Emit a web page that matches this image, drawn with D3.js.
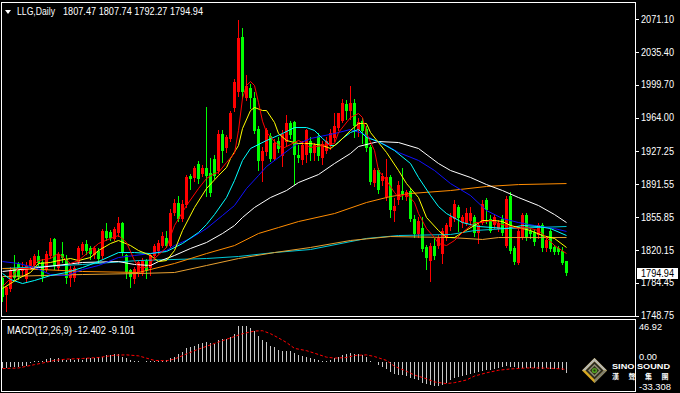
<!DOCTYPE html>
<html><head><meta charset="utf-8">
<script src="https://cdnjs.cloudflare.com/ajax/libs/d3/7.8.5/d3.min.js"></script>
<style>html,body{margin:0;padding:0;background:#000;}svg{display:block;}</style>
</head><body>
<script>
// ---------- DATA ----------
const symbol = "LLG,Daily";
const lastOHLC = "1807.47 1807.74 1792.27 1794.94";
const open = [
1789.0,1770.5,1778.1,1799.8,1804.2,1797.7,1789.0,1803.1,1803.1,1812.9,
1806.4,1798.7,1814.0,1831.4,1800.9,1815.1,1810.7,1790.0,1790.0,1806.4,
1819.4,1827.0,1821.6,1814.0,1819.4,1814.0,1841.1,1839.0,1832.5,1837.9,
1848.8,1814.0,1797.7,1789.0,1795.5,1795.5,1808.5,1799.8,1814.0,1819.4,
1824.8,1833.5,1824.8,1860.7,1871.6,1854.2,1868.3,1900.9,1897.7,1914.0,
1903.1,1909.6,1904.2,1919.4,1906.4,1946.6,1930.3,1941.2,1973.8,1991.2,
2051.0,1985.7,1996.6,1985.7,1952.0,1917.3,1926.0,1944.4,1919.4,1939.0,
1922.7,1936.8,1957.5,1958.6,1922.7,1917.3,1922.7,1939.0,1924.9,1944.4,
1920.5,1928.1,1933.6,1942.3,1952.0,1960.7,1979.2,1971.6,1980.3,1949.9,
1960.7,1952.0,1931.4,1892.2,1906.4,1895.5,1877.0,1898.8,1862.9,1873.8,
1884.6,1877.0,1884.6,1854.2,1837.9,1844.4,1822.7,1808.5,1824.8,1824.8,
1816.1,1832.5,1844.4,1854.2,1866.2,1848.8,1848.8,1852.0,1855.3,1837.9,
1849.8,1873.8,1854.2,1846.6,1843.3,1854.2,1824.8,1879.2,1821.6,1806.4,
1833.5,1857.5,1840.1,1839.0,1835.7,1846.6,1821.6,1841.1,1822.7,1821.6,
1819.4,1807.47];
const high = [
1791.1,1781.3,1802.0,1814.0,1807.4,1806.4,1806.4,1811.8,1815.1,1820.5,
1810.7,1819.4,1832.5,1832.5,1818.3,1829.2,1814.0,1803.1,1803.1,1824.8,
1829.2,1830.3,1824.8,1823.8,1821.6,1843.3,1848.8,1842.2,1845.5,1855.3,
1850.9,1816.1,1799.8,1802.0,1809.6,1811.8,1810.7,1817.2,1827.0,1830.3,
1839.0,1841.1,1864.0,1875.9,1879.2,1873.8,1902.0,1903.1,1911.8,1916.2,
1912.9,1974.9,1920.5,1922.7,1949.9,1949.9,1945.5,1971.6,2006.4,2070.5,
2060.8,2009.7,1999.9,1991.2,1955.3,1931.4,1953.1,1947.7,1940.1,1942.3,
1949.9,1966.2,1959.7,1960.7,1933.6,1939.0,1952.0,1942.3,1936.8,1947.7,
1939.0,1942.3,1952.0,1969.4,1969.4,1983.6,1982.5,1998.8,1983.6,1964.0,
1964.0,1955.3,1934.6,1909.6,1909.6,1904.2,1919.4,1902.0,1877.0,1895.5,
1909.6,1885.7,1887.9,1857.5,1855.3,1855.3,1825.9,1828.1,1832.5,1836.8,
1844.4,1849.8,1860.7,1873.8,1869.4,1858.5,1865.1,1866.2,1858.5,1849.8,
1873.8,1877.0,1857.5,1858.5,1853.1,1857.5,1879.2,1882.5,1824.8,1843.3,
1860.7,1860.7,1843.3,1842.2,1849.8,1849.8,1833.5,1843.3,1825.9,1824.8,
1822.7,1807.74];
const low = [
1765.0,1753.1,1775.9,1787.9,1787.9,1793.3,1786.8,1799.8,1802.0,1803.1,
1786.8,1796.6,1811.8,1799.8,1798.7,1806.4,1784.6,1781.3,1786.8,1804.2,
1816.1,1816.1,1810.7,1811.8,1806.4,1811.8,1830.3,1830.3,1830.3,1835.7,
1814.0,1790.0,1779.2,1784.6,1792.2,1793.3,1789.0,1793.3,1810.7,1817.2,
1822.7,1822.7,1822.7,1858.5,1852.0,1852.0,1866.2,1886.8,1895.5,1893.3,
1899.9,1879.2,1879.2,1897.7,1904.2,1915.1,1926.0,1939.0,1971.6,1987.9,
1984.7,1982.5,1973.8,1947.7,1906.4,1895.5,1922.7,1916.2,1917.3,1926.0,
1911.8,1933.6,1941.2,1892.2,1915.1,1914.0,1915.1,1917.3,1917.3,1917.3,
1914.0,1924.9,1930.3,1939.0,1949.9,1958.6,1962.9,1962.9,1942.3,1944.4,
1936.8,1928.1,1892.2,1889.0,1881.4,1890.1,1873.8,1855.3,1852.0,1870.5,
1875.9,1873.8,1852.0,1834.6,1834.6,1819.4,1799.8,1786.8,1810.7,1821.6,
1805.3,1830.3,1842.2,1852.0,1841.1,1845.5,1846.6,1849.8,1835.7,1828.1,
1847.7,1848.8,1839.0,1844.4,1841.1,1836.8,1822.7,1817.2,1804.2,1804.2,
1831.4,1830.3,1833.5,1825.9,1833.5,1819.4,1819.4,1819.4,1815.1,1815.1,
1804.2,1792.27];
const close = [
1768.3,1779.2,1798.7,1790.0,1790.0,1802.0,1803.1,1809.6,1812.9,1805.3,
1790.0,1816.1,1829.2,1802.0,1816.1,1810.7,1790.0,1799.8,1800.9,1821.6,
1827.0,1819.4,1815.1,1821.6,1810.7,1841.1,1833.5,1832.5,1843.3,1848.8,
1816.1,1795.5,1790.0,1799.8,1806.4,1808.5,1797.7,1814.0,1824.8,1828.1,
1835.7,1824.8,1860.7,1871.6,1854.2,1870.5,1898.8,1897.7,1908.6,1897.7,
1909.6,1900.9,1882.5,1900.9,1946.6,1928.1,1942.3,1969.4,2002.1,2049.9,
1991.2,1998.8,1985.7,1949.9,1917.3,1928.1,1949.9,1919.4,1936.8,1930.3,
1946.6,1957.5,1944.4,1922.7,1919.4,1933.6,1949.9,1926.0,1933.6,1922.7,
1935.7,1939.0,1947.7,1955.3,1968.4,1980.3,1971.6,1980.3,1955.3,1958.6,
1949.9,1931.4,1893.3,1906.4,1884.6,1900.9,1898.8,1862.9,1868.3,1890.1,
1881.4,1882.5,1854.2,1837.9,1852.0,1821.6,1810.7,1824.8,1814.0,1833.5,
1841.1,1846.6,1855.3,1870.5,1854.2,1855.3,1860.7,1860.7,1837.9,1846.6,
1870.5,1862.9,1841.1,1855.3,1849.8,1839.0,1875.9,1819.4,1806.4,1841.1,
1857.5,1833.5,1836.8,1828.1,1846.6,1821.6,1830.3,1821.6,1817.2,1817.2,
1806.4,1794.94];

// moving averages: [bar index, price]
const maRed = [[0,1780.3],[2,1789.0],[4,1799.8],[7,1799.8],[9,1808.5],[12,1810.7],[14,1816.1],[17,1805.3],[19,1808.5],[22,1819.4],[24,1827.0],[27,1832.5],[29,1835.7],[31,1828.1],[33,1808.5],[34,1800.9],[36,1800.9],[38,1810.7],[41,1822.7],[43,1846.6],[46,1868.3],[49,1886.8],[51,1897.7],[53,1903.1],[54,1904.2],[56,1915.1],[58,1925.0],[59,1950.0],[60,1985.0],[61,1998.8],[62,2003.1],[63,1998.8],[64,1980.3],[65,1960.0],[66,1948.0],[68,1937.9],[70,1930.3],[72,1934.6],[74,1939.0],[75,1936.8],[77,1931.4],[80,1933.6],[83,1935.7],[84,1947.7],[87,1964.0],[89,1968.4],[90,1964.0],[91,1946.6],[93,1928.1],[94,1906.4],[96,1895.5],[98,1882.5],[99,1877.0],[101,1881.4],[103,1871.6],[104,1859.6],[106,1843.3],[108,1833.5],[109,1827.0],[111,1824.8],[113,1830.3],[115,1839.0],[118,1849.8],[120,1849.8],[122,1852.0],[124,1848.8],[126,1846.6],[129,1843.3],[131,1844.4],[134,1841.1],[136,1833.5],[138,1824.8],[141,1816.1]];
const maYellow = [[0,1778.1],[2,1783.5],[4,1789.0],[7,1795.5],[9,1805.3],[12,1806.4],[14,1808.5],[17,1810.7],[19,1808.5],[22,1811.8],[24,1819.4],[27,1827.0],[29,1830.3],[32,1824.8],[34,1819.4],[37,1814.0],[39,1807.4],[41,1808.5],[43,1819.4],[45,1841.1],[48,1866.2],[51,1886.8],[54,1900.9],[56,1909.6],[57,1919.4],[59,1933.6],[60,1952.0],[62,1971.6],[63,1974.9],[65,1971.6],[66,1971.6],[68,1958.6],[69,1946.6],[71,1939.0],[74,1935.7],[77,1935.7],[80,1933.6],[82,1930.3],[84,1936.8],[87,1949.9],[89,1957.5],[91,1957.5],[92,1947.7],[94,1936.8],[96,1926.0],[99,1906.4],[101,1892.2],[104,1877.0],[106,1855.3],[109,1841.1],[111,1833.5],[113,1833.5],[115,1839.0],[118,1846.6],[120,1852.0],[123,1852.0],[125,1850.9],[127,1846.6],[129,1844.4],[132,1841.1],[135,1835.7],[138,1832.5],[141,1822.7]];
const maCyan = [[0,1794.4],[2,1787.9],[5,1783.5],[8,1786.8],[12,1792.2],[16,1795.5],[20,1800.9],[24,1807.4],[29,1817.2],[33,1817.2],[37,1816.1],[41,1818.3],[45,1827.0],[49,1839.0],[51,1847.7],[53,1858.5],[56,1877.0],[58,1895.5],[60,1917.3],[62,1930.3],[66,1939.0],[70,1946.6],[73,1953.1],[76,1953.1],[78,1949.9],[80,1941.2],[82,1933.6],[83,1933.6],[85,1941.2],[87,1947.7],[89,1951.0],[90,1946.6],[91,1942.3],[94,1937.9],[98,1928.1],[102,1914.0],[104,1898.8],[107,1879.2],[109,1867.2],[111,1859.6],[115,1849.8],[119,1845.5],[126,1843.3],[130,1846.6],[134,1845.5],[137,1843.3],[141,1835.7]];
const maBlue = [[0,1807.4],[4,1805.3],[8,1800.9],[12,1793.3],[16,1792.2],[20,1798.7],[24,1803.1],[29,1811.8],[33,1814.0],[37,1816.1],[41,1819.4],[43,1824.8],[47,1832.5],[51,1843.3],[55,1857.5],[58,1868.3],[61,1886.8],[64,1900.9],[66,1910.7],[70,1923.8],[73,1933.6],[77,1941.2],[83,1946.6],[87,1951.0],[90,1946.6],[93,1939.0],[96,1933.6],[99,1926.0],[104,1917.3],[108,1906.4],[112,1892.2],[117,1879.2],[121,1862.9],[125,1854.2],[129,1849.8],[133,1846.6],[138,1843.3],[141,1840.1]];
const maWhite = [[0,1796.6],[9,1800.9],[20,1806.4],[29,1807.4],[33,1804.2],[37,1803.1],[39,1807.4],[43,1814.0],[47,1821.6],[51,1828.1],[55,1837.9],[58,1846.6],[60,1855.3],[63,1866.2],[67,1877.0],[71,1884.6],[74,1893.3],[79,1902.0],[83,1914.0],[87,1924.9],[89,1932.5],[94,1937.9],[99,1936.8],[104,1930.3],[109,1914.0],[112,1906.4],[117,1898.8],[121,1891.1],[125,1884.6],[129,1877.0],[134,1868.3],[138,1858.5],[141,1849.8]];
const maOrange = [[0,1799.8],[10,1798.7],[20,1796.6],[34,1795.5],[43,1805.3],[51,1816.1],[58,1824.8],[64,1837.9],[69,1844.4],[74,1850.9],[83,1859.6],[91,1871.6],[97,1878.1],[102,1881.4],[112,1884.6],[121,1889.0],[129,1891.1],[141,1892.2]];
const maTan = [[0,1791.1],[10,1792.2],[20,1793.3],[34,1794.4],[43,1795.5],[51,1803.1],[59,1810.7],[68,1817.2],[77,1822.7],[87,1830.3],[97,1834.6],[112,1833.5],[120,1831.4],[124,1833.5],[141,1833.5]];
const maTeal = [[0,1799.8],[10,1802.0],[20,1804.2],[34,1808.5],[51,1810.7],[59,1812.9],[68,1817.2],[77,1820.5],[91,1832.5],[99,1835.7],[112,1836.8],[118,1841.1],[126,1843.3],[141,1845.5]];

const priceTicks = [2071.10, 2035.40, 1999.70, 1964.00, 1927.25, 1891.55, 1855.85, 1820.15, 1784.45, 1748.75];
const lastPrice = 1794.94;

const macdTitle = "MACD(12,26,9) -12.402 -9.101";
const macd = [
-7.0,-6.7,-6.3,-6.0,-5.6,-5.2,-4.5,-2.0,0.5,1.1,
0.5,2.6,3.7,3.3,3.7,3.0,2.2,3.0,2.2,3.0,
2.2,4.1,4.8,4.8,5.2,5.9,7.1,7.8,8.9,8.5,
5.9,4.8,2.2,0.4,0.3,-0.2,0.4,0.6,1.1,1.0,
1.1,1.5,4.1,5.9,8.5,11.5,15.2,16.3,17.8,19.7,
21.5,21.9,20.8,20.3,24.5,25.6,25.6,28.0,31.0,40.1,
40.1,40.1,38.6,34.5,29.0,24.5,21.9,17.8,16.3,13.4,
12.3,12.3,12.3,9.7,7.8,6.7,5.6,4.8,3.3,2.2,
1.1,1.1,2.2,4.1,5.2,7.8,8.9,9.7,8.5,8.5,
7.1,5.6,1.1,-0.5,-4.1,-6.3,-8.2,-11.5,-13.7,-15.6,
-15.6,-16.3,-18.2,-19.3,-20.8,-23.8,-25.6,-26.4,-27.5,-27.5,
-26.4,-23.8,-21.2,-18.9,-17.1,-16.3,-15.6,-14.5,-12.6,-11.5,
-10.0,-8.9,-8.9,-8.2,-7.1,-6.3,-5.2,-6.3,-6.3,-7.1,
-7.1,-7.1,-7.1,-7.1,-7.8,-7.8,-7.1,-7.8,-7.8,-8.2,
-8.9,-12.402];
const signal = [[0,-7.8],[4,-7.1],[6,-5.2],[8,-3.3],[10,-1.5],[13,1.5],[16,3.0],[20,3.7],[24,4.8],[28,7.4],[31,7.8],[34,6.7],[36,4.1],[38,1.5],[41,1.1],[43,3.0],[46,8.9],[49,14.3],[53,20.8],[57,27.1],[60,31.9],[63,34.9],[65,35.3],[67,31.9],[69,27.1],[71,21.9],[73,15.2],[76,12.6],[78,9.7],[81,5.2],[83,4.1],[86,4.8],[88,7.1],[91,7.8],[93,5.9],[96,1.5],[98,-5.2],[101,-10.8],[103,-15.2],[106,-19.3],[108,-23.0],[111,-24.9],[113,-23.8],[116,-20.8],[118,-16.3],[121,-12.6],[124,-9.7],[127,-8.2],[131,-7.1],[134,-7.1],[137,-7.4],[140,-8.2],[141,-9.101]];
const macdTicks = ["46.92", "0.00", "-33.308"];
const macdMax = 46.92, macdMin = -33.308;

// ---------- DRAW ----------
const W = 680, H = 393;
const FONT = "'Liberation Sans', Arial, sans-serif";
const svg = d3.select("body").append("svg").attr("width", W).attr("height", H)
  .style("background", "#000");

const main = {l: 1.5, r: 635.5, t: 2.5, b: 316.5};
const sub = {l: 1.5, r: 635.5, t: 319.5, b: 391.5};

const n = open.length;
const x = d3.scaleBand().domain(d3.range(n)).range([0.5, 0.5 + 4 * n]).padding(0);
const cx = i => x(i) + 2;
const y = d3.scaleLinear().domain([1748.75, 2071.10]).range([315.5, 19]);
const ym = d3.scaleLinear().domain([macdMin, macdMax]).range([391, 320.5]);

svg.append("defs").call(d => {
  d.append("clipPath").attr("id", "cm").append("rect")
    .attr("x", main.l).attr("y", main.t).attr("width", main.r - main.l).attr("height", main.b - main.t);
  d.append("clipPath").attr("id", "cs").append("rect")
    .attr("x", sub.l).attr("y", sub.t).attr("width", sub.r - sub.l).attr("height", sub.b - sub.t);
});

// candles
const gc = svg.append("g").attr("clip-path", "url(#cm)").attr("shape-rendering", "crispEdges");
const bars = d3.range(n).map(i => ({i, o: open[i], h: high[i], l: low[i], c: close[i]}));
const col = d => d.c >= d.o ? "#ff0000" : "#00ff00";
gc.selectAll("line.wick").data(bars).join("line")
  .attr("x1", d => cx(d.i)).attr("x2", d => cx(d.i))
  .attr("y1", d => Math.round(y(d.h))).attr("y2", d => Math.round(y(d.l)) + 1)
  .attr("stroke", col).attr("stroke-width", 1);
gc.selectAll("rect.body").data(bars).join("rect")
  .attr("x", d => cx(d.i) - 1.5).attr("width", 3)
  .attr("y", d => Math.round(Math.min(y(d.o), y(d.c))))
  .attr("height", d => Math.max(1, Math.round(Math.abs(y(d.o) - y(d.c)))))
  .attr("fill", col);

// moving averages
const line = d3.line().x(d => cx(d[0])).y(d => y(d[1]));
const mas = [
  [maTeal, "#00c8d8"], [maTan, "#e8a030"], [maOrange, "#ff8c00"], [maWhite, "#ffffff"],
  [maBlue, "#1010ff"], [maCyan, "#00ffff"], [maYellow, "#ffff00"], [maRed, "#ff0000"]
];
const gm = svg.append("g").attr("clip-path", "url(#cm)");
mas.forEach(([data, c]) => {
  gm.append("path").attr("d", line(data)).attr("fill", "none")
    .attr("stroke", c).attr("stroke-width", 1);
});

// MACD
const gh = svg.append("g").attr("clip-path", "url(#cs)").attr("shape-rendering", "crispEdges");
gh.selectAll("line").data(macd).join("line")
  .attr("x1", (d, i) => cx(i)).attr("x2", (d, i) => cx(i))
  .attr("y1", ym(0)).attr("y2", d => ym(d))
  .attr("stroke", "#c8c8c8").attr("stroke-width", 1);
const sline = d3.line().x(d => cx(d[0])).y(d => ym(d[1]));
svg.append("g").attr("clip-path", "url(#cs)").append("path").attr("d", sline(signal))
  .attr("fill", "none").attr("stroke", "#ff0000").attr("stroke-width", 1)
  .attr("stroke-dasharray", "3,2");

// frames
[main, sub].forEach(p => {
  svg.append("rect").attr("x", p.l).attr("y", p.t).attr("width", p.r - p.l).attr("height", p.b - p.t)
    .attr("fill", "none").attr("stroke", "#ffffff").attr("stroke-width", 1);
});

// price axis
const ax = svg.append("g").attr("transform", `translate(${main.r + 0.5},0)`)
  .call(d3.axisRight(y).tickValues(priceTicks).tickFormat(d3.format(".2f")).tickSize(3).tickPadding(3));
ax.select(".domain").remove();
ax.selectAll(".tick line").attr("stroke", "#fff").attr("shape-rendering", "crispEdges");
ax.selectAll(".tick text").attr("fill", "#fff").attr("font-family", FONT).attr("font-size", 10)
  .attr("textLength", 33).attr("lengthAdjust", "spacingAndGlyphs").attr("x", 5);

// current price box
const yl = y(lastPrice);
svg.append("rect").attr("x", 637).attr("y", Math.round(yl) - 5).attr("width", 41).attr("height", 11).attr("fill", "#fff");
svg.append("text").attr("x", 641).attr("y", Math.round(yl) + 3.5).text(d3.format(".2f")(lastPrice))
  .attr("fill", "#000").attr("font-family", FONT).attr("font-size", 10)
  .attr("textLength", 33).attr("lengthAdjust", "spacingAndGlyphs");

// header
svg.append("path").attr("d", "M5,10 L11,10 L8,14 Z").attr("fill", "#fff");
svg.append("text").attr("x", 17).attr("y", 15).text(symbol).attr("fill", "#fff")
  .attr("font-family", FONT).attr("font-size", 10).attr("textLength", 38).attr("lengthAdjust", "spacingAndGlyphs");
svg.append("text").attr("x", 63).attr("y", 15).text(lastOHLC).attr("fill", "#fff")
  .attr("font-family", FONT).attr("font-size", 10).attr("textLength", 140).attr("lengthAdjust", "spacingAndGlyphs");

// MACD labels
svg.append("text").attr("x", 7).attr("y", 334).text(macdTitle).attr("fill", "#fff")
  .attr("font-family", FONT).attr("font-size", 10).attr("textLength", 128).attr("lengthAdjust", "spacingAndGlyphs");
const macdLabY = [ym(macdMax) + 9.5, 360, 389.5];
const macdLabW = [23, 18, 32];
macdTicks.forEach((t, k) => {
  svg.append("text").attr("x", 639).attr("y", macdLabY[k]).text(t).attr("fill", "#fff")
    .attr("font-family", FONT).attr("font-size", 9)
    .attr("textLength", macdLabW[k]).attr("lengthAdjust", "spacingAndGlyphs");
});

// logo
const lg = svg.append("g").attr("transform", "translate(594.5,370.5)");
const dia = r => `M0,${-r} L${r},0 L0,${r} L${-r},0 Z`;
lg.append("path").attr("d", dia(12.5)).attr("fill", "#d8a820");
lg.append("path").attr("d", `M${-12.5},0 L0,-12.5 L12.5,0 L9,0 L0,-9 L-9,0 Z`).attr("fill", "#b8b8b0");
lg.append("path").attr("d", `M12.5,0 L0,12.5 L0,9 L9,0 Z`).attr("fill", "#808070");
lg.append("path").attr("d", dia(9)).attr("fill", "#2a2a20");
lg.append("path").attr("d", dia(6.5)).attr("fill", "#8a8a70");
lg.append("path").attr("d", dia(4.5)).attr("fill", "#303018");
lg.append("circle").attr("r", 2.6).attr("fill", "#50a020");
lg.append("circle").attr("r", 1.1).attr("fill", "#203010");
svg.append("text").attr("x", 612).attr("y", 369).text("SINO SOUND").attr("fill", "#fff")
  .attr("font-family", FONT).attr("font-weight", "bold").attr("font-size", 7.5)
  .attr("textLength", 58).attr("lengthAdjust", "spacingAndGlyphs");
const cjk = ["漢", "聲", "集", "團"];
cjk.forEach((c, k) => {
  svg.append("text").attr("x", 612 + k * 16.5).attr("y", 379).text(c).attr("fill", "#fff")
    .attr("font-family", "'Noto Sans CJK TC', sans-serif").attr("font-weight", "bold").attr("font-size", 7);
});
</script>
</body></html>
